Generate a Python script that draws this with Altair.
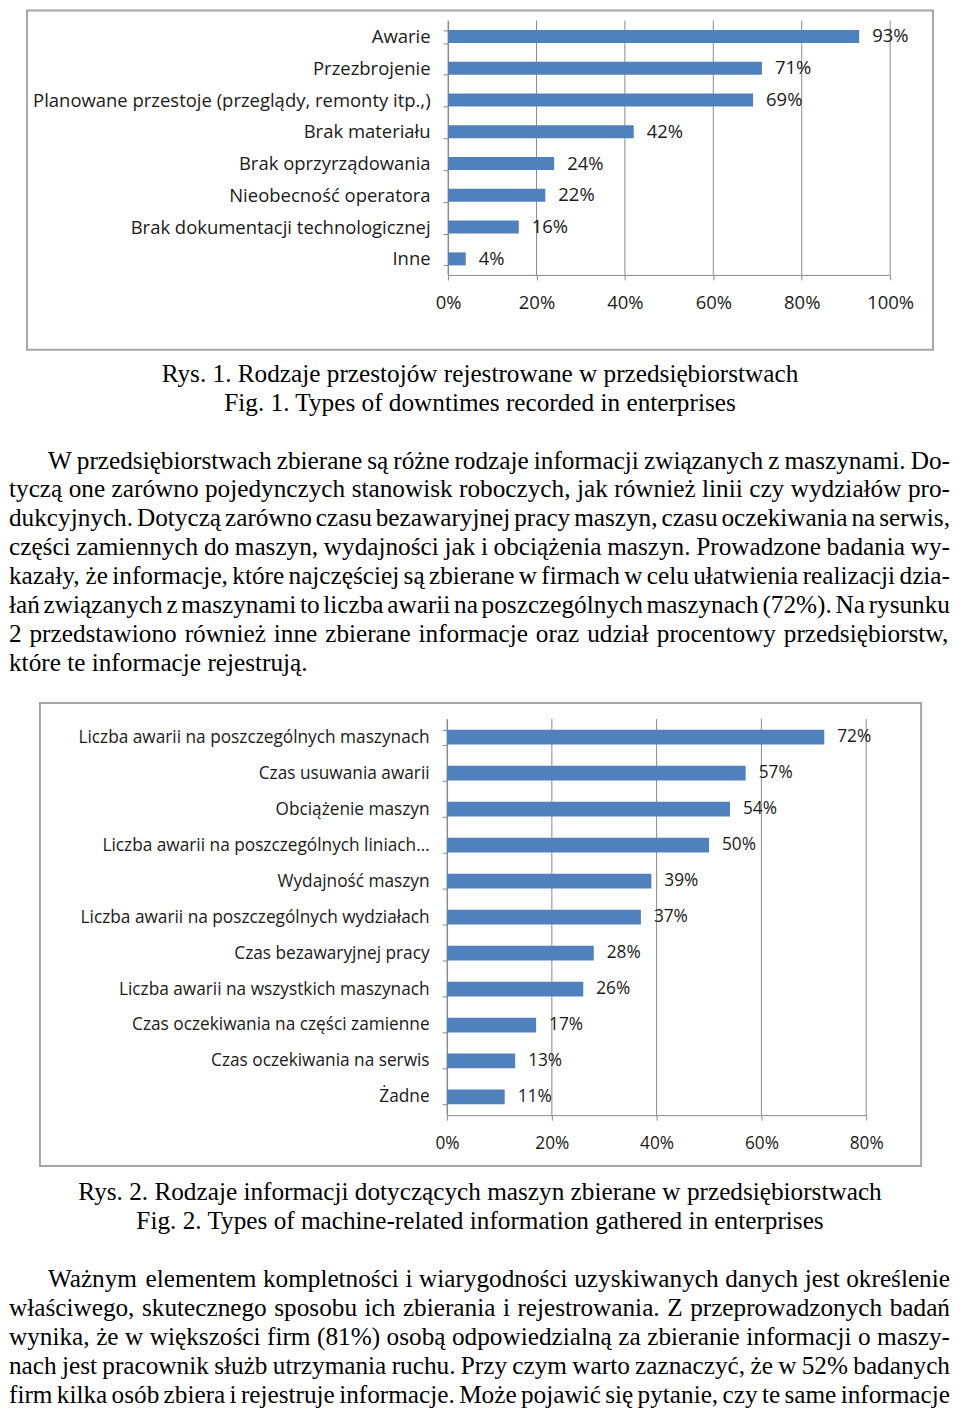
import altair as alt
import pandas as pd

# ---------------- data ----------------
c1_categories = [
    "Awarie",
    "Przezbrojenie",
    "Planowane przestoje (przeglądy, remonty itp.,)",
    "Brak materiału",
    "Brak oprzyrządowania",
    "Nieobecność operatora",
    "Brak dokumentacji technologicznej",
    "Inne",
]
c1_values = [93, 71, 69, 42, 24, 22, 16, 4]
c1_ticks = [0, 20, 40, 60, 80, 100]

c2_categories = [
    "Liczba awarii na poszczególnych maszynach",
    "Czas usuwania awarii",
    "Obciążenie maszyn",
    "Liczba awarii na poszczególnych liniach…",
    "Wydajność maszyn",
    "Liczba awarii na poszczególnych wydziałach",
    "Czas bezawaryjnej pracy",
    "Liczba awarii na wszystkich maszynach",
    "Czas oczekiwania na części zamienne",
    "Czas oczekiwania na serwis",
    "Żadne",
]
c2_values = [72, 57, 54, 50, 39, 37, 28, 26, 17, 13, 11]
c2_ticks = [0, 20, 40, 60, 80]

caption1 = [
    "Rys. 1. Rodzaje przestojów rejestrowane w przedsiębiorstwach",
    "Fig. 1. Types of downtimes recorded in enterprises",
]
paragraph1 = [
    "W przedsiębiorstwach zbierane są różne rodzaje informacji związanych z maszynami. Do-",
    "tyczą one zarówno pojedynczych stanowisk roboczych, jak również linii czy wydziałów pro-",
    "dukcyjnych. Dotyczą zarówno czasu bezawaryjnej pracy maszyn, czasu oczekiwania na serwis,",
    "części zamiennych do maszyn, wydajności jak i obciążenia maszyn. Prowadzone badania wy-",
    "kazały, że informacje, które najczęściej są zbierane w firmach w celu ułatwienia realizacji dzia-",
    "łań związanych z maszynami to liczba awarii na poszczególnych maszynach (72%). Na rysunku",
    "2 przedstawiono również inne zbierane informacje oraz udział procentowy przedsiębiorstw,",
    "które te informacje rejestrują.",
]
caption2 = [
    "Rys. 2. Rodzaje informacji dotyczących maszyn zbierane w przedsiębiorstwach",
    "Fig. 2. Types of machine-related information gathered in enterprises",
]
paragraph2 = [
    "Ważnym elementem kompletności i wiarygodności uzyskiwanych danych jest określenie",
    "właściwego, skutecznego sposobu ich zbierania i rejestrowania. Z przeprowadzonych badań",
    "wynika, że w większości firm (81%) osobą odpowiedzialną za zbieranie informacji o maszy-",
    "nach jest pracownik służb utrzymania ruchu. Przy czym warto zaznaczyć, że w 52% badanych",
    "firm kilka osób zbiera i rejestruje informacje. Może pojawić się pytanie, czy te same informacje",
]

# ---------------- style ----------------
BAR = "#4F81BD"
GRID = "#8a8a8a"
FRAME = "#a6a6a6"
TXT = "#1a1a1a"
SANS = "Open Sans"
SERIF = "Liberation Serif"
FS = 25.3
PAGE_W = 944

# Times metrics (1/1000 em) used to justify paragraph lines
_W = {' ': 250, 'a': 444, 'b': 500, 'c': 444, 'd': 500, 'e': 444, 'f': 333, 'g': 500,
      'h': 500, 'i': 278, 'j': 278, 'k': 500, 'l': 278, 'm': 778, 'n': 500, 'o': 500,
      'p': 500, 'q': 500, 'r': 333, 's': 389, 't': 278, 'u': 500, 'v': 500, 'w': 722,
      'x': 500, 'y': 500, 'z': 444, 'A': 722, 'B': 667, 'C': 667, 'D': 722, 'E': 611,
      'F': 556, 'G': 722, 'H': 722, 'I': 333, 'J': 389, 'K': 722, 'L': 611, 'M': 889,
      'N': 722, 'O': 722, 'P': 556, 'Q': 722, 'R': 667, 'S': 556, 'T': 611, 'U': 722,
      'V': 722, 'W': 944, 'X': 722, 'Y': 722, 'Z': 611, '.': 250, ',': 250, '-': 333,
      '(': 333, ')': 333, '%': 833, ':': 278, ';': 278,
      'ą': 444, 'ć': 444, 'ę': 444, 'ł': 278, 'ń': 500, 'ó': 500, 'ś': 389, 'ź': 444,
      'ż': 444, 'Ł': 611, 'Ż': 611, 'Ś': 556}


def tw(s):
    return sum(_W.get(ch, 500) for ch in s) * FS / 1000.0


def word_rows(lines, first_row, first_indent, last_justified):
    rows = []
    for i, line in enumerate(lines):
        words = line.split(" ")
        ind = first_indent if i == 0 else 0
        widths = [tw(w) for w in words]
        justify = (i < len(lines) - 1) or last_justified
        if justify and len(words) > 1:
            gap = (PAGE_W - 1 - ind - sum(widths)) / (len(words) - 1)
            gap = max(gap, 0.12 * FS)
        else:
            gap = tw(" ")
        x = ind
        for w, wd in zip(words, widths):
            rows.append({"word": w, "x": x, "row": first_row + i})
            x += wd + gap
    return pd.DataFrame(rows)


def bar_panel(cats, vals, ticks, height, frame, xrange, yrange, xmax, fs):
    df = pd.DataFrame({"cat": cats, "val": vals, "lab": [f"{v}%" for v in vals]})
    tdf = pd.DataFrame({"t": ticks})
    xs = alt.Scale(domain=[0, xmax], range=xrange, nice=False)
    ys = alt.Scale(domain=cats, range=yrange, paddingInner=0.59, paddingOuter=0.3)
    xaxis = alt.Axis(
        orient="bottom", offset=-(height - yrange[1]), values=ticks,
        labelExpr="datum.value + '%'", title="", grid=False, labelFlush=False,
        domain=True, domainColor=GRID, ticks=True, tickColor=GRID, tickSize=5,
        labelFont=SANS, labelFontSize=fs, labelColor=TXT, labelPadding=14,
    )
    yaxis = alt.Axis(
        orient="left", offset=-xrange[0], title="", grid=False,
        domain=True, domainColor=GRID, ticks=True, tickColor=GRID, tickSize=5,
        tickBand="extent", labelFont=SANS, labelFontSize=fs, labelColor=TXT,
        labelPadding=13, labelLimit=600,
    )

    frame_l = alt.Chart(pd.DataFrame({"k": [0]})).mark_rect(
        fillOpacity=0, stroke=FRAME, strokeWidth=2
    ).encode(
        x=alt.value(frame[0]), x2=alt.value(frame[1]),
        y=alt.value(frame[2]), y2=alt.value(frame[3]),
    )
    grid = alt.Chart(tdf).mark_rule(color=GRID, strokeWidth=1).encode(
        x=alt.X("t:Q", scale=xs, axis=xaxis),
        y=alt.value(yrange[0]), y2=alt.value(yrange[1]),
    )
    bars = alt.Chart(df).mark_bar(color=BAR).encode(
        x=alt.X("val:Q", scale=xs, axis=xaxis),
        y=alt.Y("cat:N", scale=ys, sort=cats, axis=yaxis),
    )
    labels = alt.Chart(df).mark_text(
        align="left", baseline="middle", dx=13, font=SANS, fontSize=fs, color=TXT
    ).encode(
        x=alt.X("val:Q", scale=xs, axis=xaxis),
        y=alt.Y("cat:N", scale=ys, sort=cats, axis=yaxis),
        text="lab:N",
    )
    return alt.layer(frame_l, grid, bars, labels).properties(width=PAGE_W, height=height)


def text_section(caption, paragraph, height, y0, last_justified):
    n = 3 + len(paragraph) - 1
    ysc = alt.Scale(domain=[0, n], range=[y0, y0 + 29 * n])
    cap = alt.Chart(pd.DataFrame({"t": caption, "row": list(range(len(caption)))})).mark_text(
        align="center", baseline="middle", font=SERIF, fontSize=FS, color="#000"
    ).encode(x=alt.value(472), y=alt.Y("row:Q", scale=ysc, axis=None), text="t:N")
    words = word_rows(paragraph, 3, 39, last_justified)
    par = alt.Chart(words).mark_text(
        align="left", baseline="middle", font=SERIF, fontSize=FS, color="#000"
    ).encode(
        x=alt.X("x:Q", scale=None),
        y=alt.Y("row:Q", scale=ysc, axis=None),
        text="word:N",
    )
    return alt.layer(cap, par).properties(width=PAGE_W, height=height)


s1 = bar_panel(c1_categories, c1_values, c1_ticks, 347,
               (18, 926, 1, 341), [440, 883], [11, 266], 100, 18.5)
s2 = text_section(caption1, paragraph1, 345, 18, False)
s3 = bar_panel(c2_categories, c2_values, c2_ticks, 472,
               (31, 914, 3, 467), [439, 859], [19, 416], 80, 17.3)
s4 = text_section(caption2, paragraph2, 240, 21, True)

chart = alt.vconcat(s1, s2, s3, s4, spacing=0, bounds="flush").configure_view(
    stroke="transparent"
).properties(padding={"left": 0, "top": -10, "right": 0, "bottom": 0})

chart.save("out.html", embed_options={"renderer": "svg", "actions": False})
